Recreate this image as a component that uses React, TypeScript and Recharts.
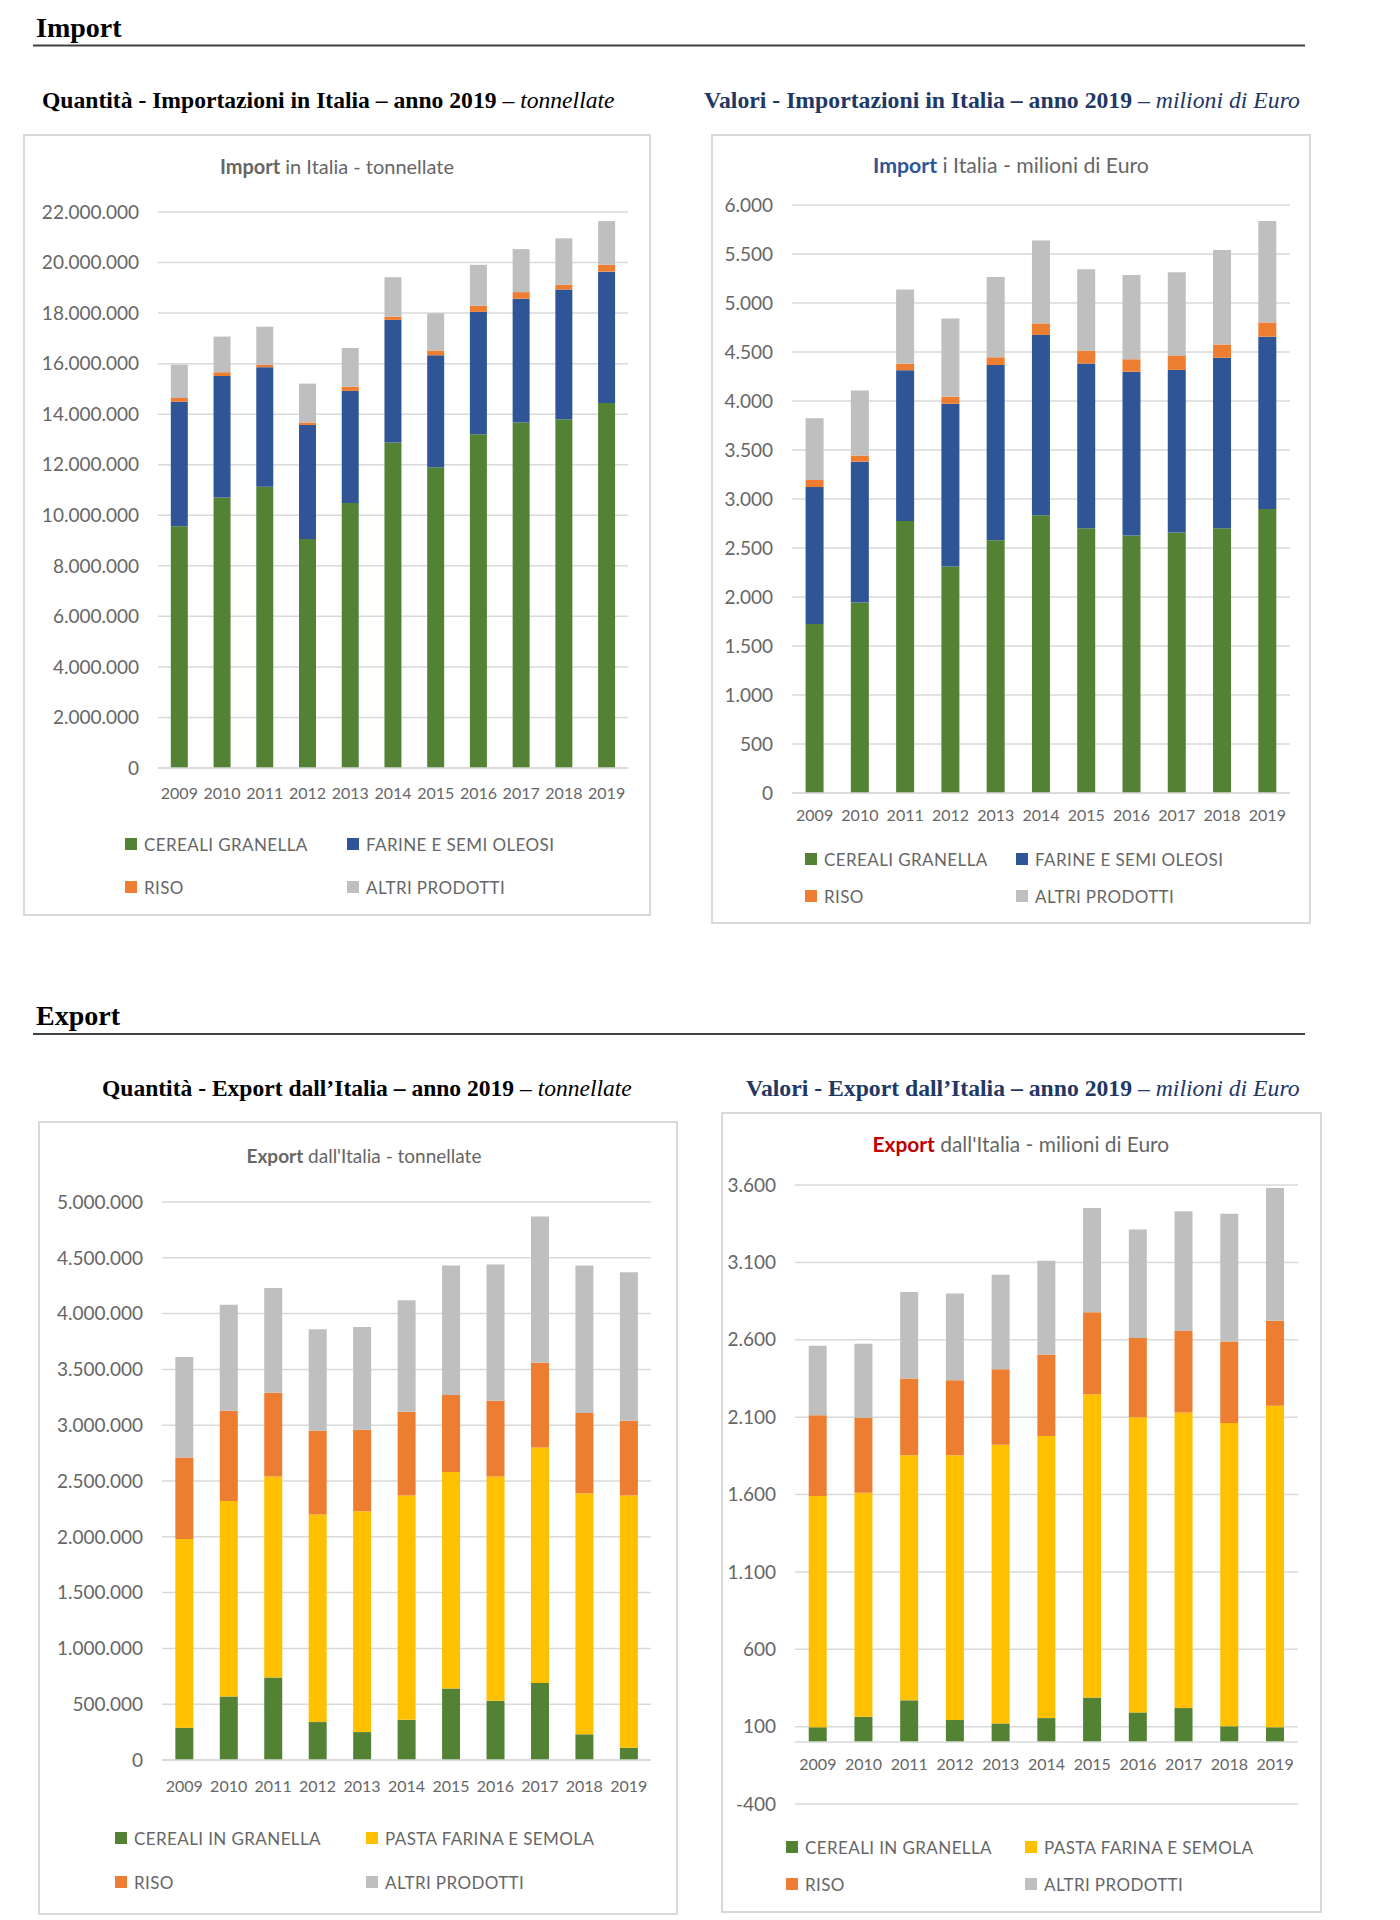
import React from 'react';
import { BarChart, Bar, XAxis, YAxis, CartesianGrid, ReferenceLine } from 'recharts';

const YEARS = ['2009', '2010', '2011', '2012', '2013', '2014', '2015', '2016', '2017', '2018', '2019'];

// Import - tonnellate
const IMP_TON_CEREALI = [9570000, 10700000, 11130000, 9060000, 10490000, 12880000, 11900000, 13210000, 13670000, 13800000, 14440000];
const IMP_TON_FARINE = [4920000, 4810000, 4730000, 4510000, 4430000, 4850000, 4430000, 4840000, 4900000, 5130000, 5200000];
const IMP_TON_RISO = [150000, 150000, 100000, 100000, 170000, 130000, 190000, 240000, 260000, 190000, 270000];
const IMP_TON_ALTRI = [1320000, 1410000, 1500000, 1540000, 1530000, 1560000, 1470000, 1620000, 1700000, 1840000, 1730000];
const IMP_TON_TICKS = [0, 2000000, 4000000, 6000000, 8000000, 10000000, 12000000, 14000000, 16000000, 18000000, 20000000, 22000000];

// Import - milioni di Euro
const IMP_EUR_CEREALI = [1725, 1944, 2775, 2311, 2579, 2833, 2702, 2628, 2657, 2702, 2897];
const IMP_EUR_FARINE = [1397, 1437, 1539, 1661, 1788, 1842, 1680, 1671, 1661, 1739, 1759];
const IMP_EUR_RISO = [73, 63, 68, 73, 79, 117, 132, 127, 147, 136, 146];
const IMP_EUR_ALTRI = [630, 664, 757, 796, 820, 845, 830, 860, 850, 963, 1036];
const IMP_EUR_TICKS = [0, 500, 1000, 1500, 2000, 2500, 3000, 3500, 4000, 4500, 5000, 5500, 6000];

// Export - tonnellate
const EXP_TON_CEREALI = [290000, 570000, 740000, 340000, 250000, 360000, 640000, 530000, 690000, 230000, 110000];
const EXP_TON_PASTA = [1690000, 1750000, 1800000, 1860000, 1980000, 2010000, 1940000, 2010000, 2110000, 2160000, 2260000];
const EXP_TON_RISO = [730000, 810000, 750000, 750000, 730000, 750000, 690000, 680000, 760000, 720000, 670000];
const EXP_TON_ALTRI = [900000, 950000, 940000, 910000, 920000, 1000000, 1160000, 1220000, 1310000, 1320000, 1330000];
const EXP_TON_TICKS = [0, 500000, 1000000, 1500000, 2000000, 2500000, 3000000, 3500000, 4000000, 4500000, 5000000];

// Export - milioni di Euro
const EXP_EUR_CEREALI = [96, 164, 270, 143, 121, 155, 288, 192, 220, 102, 96];
const EXP_EUR_PASTA = [1495, 1448, 1584, 1711, 1801, 1823, 1960, 1907, 1910, 1960, 2078];
const EXP_EUR_RISO = [521, 484, 496, 484, 487, 527, 530, 512, 527, 527, 548];
const EXP_EUR_ALTRI = [449, 478, 559, 561, 611, 605, 673, 701, 773, 825, 859];
const EXP_EUR_TICKS = [-400, 100, 600, 1100, 1600, 2100, 2600, 3100, 3600];

const GREEN = '#548235';
const BLUE = '#2F5597';
const ORANGE = '#ED7D31';
const GREY = '#BFBFBF';
const YELLOW = '#FFC000';
const TEXT = '#666666';
const GRID = '#D9D9D9';
const NAVY = '#1F3864';
const FONT = 'Lato, "Open Sans", sans-serif';
const SERIF = '"Liberation Serif", "Times New Roman", serif';

type Series = { key: string; name: string; color: string; values: number[] };

const importTon: Series[] = [
  { key: 'cereali', name: 'CEREALI GRANELLA', color: GREEN, values: IMP_TON_CEREALI },
  { key: 'farine', name: 'FARINE E SEMI OLEOSI', color: BLUE, values: IMP_TON_FARINE },
  { key: 'riso', name: 'RISO', color: ORANGE, values: IMP_TON_RISO },
  { key: 'altri', name: 'ALTRI PRODOTTI', color: GREY, values: IMP_TON_ALTRI },
];
const importEur: Series[] = [
  { key: 'cereali', name: 'CEREALI GRANELLA', color: GREEN, values: IMP_EUR_CEREALI },
  { key: 'farine', name: 'FARINE E SEMI OLEOSI', color: BLUE, values: IMP_EUR_FARINE },
  { key: 'riso', name: 'RISO', color: ORANGE, values: IMP_EUR_RISO },
  { key: 'altri', name: 'ALTRI PRODOTTI', color: GREY, values: IMP_EUR_ALTRI },
];
const exportTon: Series[] = [
  { key: 'cereali', name: 'CEREALI IN GRANELLA', color: GREEN, values: EXP_TON_CEREALI },
  { key: 'pasta', name: 'PASTA FARINA E SEMOLA', color: YELLOW, values: EXP_TON_PASTA },
  { key: 'riso', name: 'RISO', color: ORANGE, values: EXP_TON_RISO },
  { key: 'altri', name: 'ALTRI PRODOTTI', color: GREY, values: EXP_TON_ALTRI },
];
const exportEur: Series[] = [
  { key: 'cereali', name: 'CEREALI IN GRANELLA', color: GREEN, values: EXP_EUR_CEREALI },
  { key: 'pasta', name: 'PASTA FARINA E SEMOLA', color: YELLOW, values: EXP_EUR_PASTA },
  { key: 'riso', name: 'RISO', color: ORANGE, values: EXP_EUR_RISO },
  { key: 'altri', name: 'ALTRI PRODOTTI', color: GREY, values: EXP_EUR_ALTRI },
];

const fmt = (v: number) => {
  const s = Math.abs(v).toString().replace(/\B(?=(\d{3})+(?!\d))/g, '.');
  return v < 0 ? '-' + s : s;
};

const buildRows = (series: Series[]) =>
  YEARS.map((year, i) => {
    const row: Record<string, string | number> = { year };
    series.forEach((s) => (row[s.key] = s.values[i]));
    return row;
  });

// text widths, used to lay out mixed-style titles as separate pieces
let ctx: CanvasRenderingContext2D | null = null;
const measure = (text: string, font: string) => {
  if (!ctx) ctx = document.createElement('canvas').getContext('2d');
  if (!ctx) return text.length * 10;
  ctx.font = font;
  return ctx.measureText(text).width;
};

// pieces laid out left to right; font size picked so the whole line is w wide
type Piece = { text: string; weight?: string; style?: string; fill: string };
const Fitted = ({ x, y, w, size, family, pieces }: { x: number; y: number; w: number; size: number; family: string; pieces: Piece[] }) => {
  const fontOf = (p: Piece, s: number) => `${p.style || 'normal'} ${p.weight || 'normal'} ${s}px ${family}`;
  const lineWidth = (s: number) =>
    pieces.reduce((a, p) => a + measure(p.text, fontOf(p, s)), 0) + measure(' ', `${s}px ${family}`) * (pieces.length - 1);
  const fs = (size * w) / lineWidth(size);
  const space = measure(' ', `${fs}px ${family}`);
  let cx = x;
  return (
    <>
      {pieces.map((p, i) => {
        const px = cx;
        cx += measure(p.text, fontOf(p, fs)) + space;
        return (
          <text
            key={i}
            x={px}
            y={y}
            fontFamily={family}
            fontSize={fs}
            fontWeight={p.weight || 'normal'}
            fontStyle={p.style || 'normal'}
            fill={p.fill}
          >
            {p.text}
          </text>
        );
      })}
    </>
  );
};

// x labels; lift moves them up to the zero line when the axis has negative values
const YearTick = (props: any) => {
  const { x, y, payload, lift = 0 } = props;
  return (
    <text x={x} y={y - lift} dy="0.71em" textAnchor="middle" fill={TEXT} fontSize={16} fontFamily={FONT}>
      {payload.value}
    </text>
  );
};

interface PanelProps {
  series: Series[];
  ticks: number[];
  box: { x: number; y: number; w: number; h: number };
  plot: { left: number; top: number; right: number; bottom: number };
  labelGap: number;
  legendRows: number[];
  legendCols: number[];
  title: { cx: number; cy: number; w: number; bold: string; rest: string; boldColor: string };
  zeroLine?: boolean;
}

const XAXIS_H = 30;

const Panel: React.FC<PanelProps> = ({ series, ticks, box, plot, labelGap, legendRows, legendCols, title, zeroLine }) => {
  const data = buildRows(series);
  const min = ticks[0];
  const max = ticks[ticks.length - 1];
  const plotH = plot.bottom - plot.top;
  const lift = zeroLine ? (plotH * (0 - min)) / (max - min) : 0;
  return (
    <>
      <div
        style={{
          position: 'absolute',
          left: box.x,
          top: box.y,
          width: box.w,
          height: box.h,
          border: '2px solid #D9D9D9',
          boxSizing: 'border-box',
        }}
      />
      <div style={{ position: 'absolute', left: box.x, top: box.y }}>
        <BarChart
          width={box.w}
          height={box.h}
          data={data}
          barCategoryGap="30%"
          margin={{
            top: plot.top - box.y,
            right: box.x + box.w - plot.right,
            left: 0,
            bottom: box.y + box.h - plot.bottom - XAXIS_H,
          }}
        >
          <CartesianGrid vertical={false} stroke={GRID} strokeWidth={1.5} />
          <XAxis
            dataKey="year"
            height={XAXIS_H}
            tickLine={false}
            tickSize={0}
            tickMargin={labelGap}
            axisLine={zeroLine ? false : { stroke: GRID, strokeWidth: 1.5 }}
            interval={0}
            tick={<YearTick lift={lift} />}
          />
          <YAxis
            width={plot.left - box.x}
            domain={[min, max]}
            ticks={ticks}
            interval={0}
            allowDataOverflow
            axisLine={false}
            tickLine={false}
            tickSize={0}
            tickMargin={19}
            tickFormatter={fmt}
            tick={{ fill: TEXT, fontSize: 19, fontFamily: FONT }}
          />
          {zeroLine && <ReferenceLine y={0} stroke={GRID} strokeWidth={1.5} />}
          {series.map((s) => (
            <Bar key={s.key} dataKey={s.key} name={s.name} stackId="a" fill={s.color} isAnimationActive={false} />
          ))}
        </BarChart>
      </div>
      <svg width={1400} height={40} style={{ position: 'absolute', left: 0, top: title.cy - 20, overflow: 'visible' }}>
        <Fitted
          x={title.cx - title.w / 2}
          y={27}
          w={title.w}
          size={20}
          family={FONT}
          pieces={[
            { text: title.bold, weight: 'bold', fill: title.boldColor },
            { text: title.rest, fill: TEXT },
          ]}
        />
      </svg>
      {series.map((s, i) => (
        <div
          key={s.key}
          style={{
            position: 'absolute',
            left: legendCols[i % 2],
            top: legendRows[Math.floor(i / 2)] - 11,
            height: 22,
            display: 'flex',
            alignItems: 'center',
            fontFamily: FONT,
            fontSize: 17,
            letterSpacing: 0.4,
            color: TEXT,
            whiteSpace: 'nowrap',
          }}
        >
          <span style={{ display: 'inline-block', width: 12, height: 12, background: s.color, marginRight: 7 }} />
          {s.name}
        </div>
      ))}
    </>
  );
};

const Heading = ({ x, y, text }: { x: number; y: number; text: string }) => (
  <text x={x} y={y} fontFamily={SERIF} fontWeight="bold" fontSize={28} fill="#000">
    {text}
  </text>
);

const Subtitle = ({ x, y, w, main, unit, color }: { x: number; y: number; w: number; main: string; unit: string; color: string }) => (
  <Fitted
    x={x}
    y={y}
    w={w}
    size={22}
    family={SERIF}
    pieces={[
      { text: main, weight: 'bold', fill: color },
      { text: '–', fill: color },
      { text: unit, style: 'italic', fill: color },
    ]}
  />
);

const App: React.FC = () => (
  <div style={{ position: 'absolute', left: 0, top: 0, width: 1400, height: 1920, background: '#fff' }}>
    <svg width={1400} height={1920} style={{ position: 'absolute', left: 0, top: 0 }}>
      <Heading x={36} y={37} text="Import" />
      <line x1={33} x2={1305} y1={45.5} y2={45.5} stroke="#404040" strokeWidth={2} />
      <Subtitle x={42} y={108} w={573} main="Quantità - Importazioni in Italia – anno 2019" unit="tonnellate" color="#000" />
      <Subtitle x={704} y={108} w={596} main="Valori - Importazioni in Italia – anno 2019" unit="milioni di Euro" color={NAVY} />
      <Heading x={36} y={1025} text="Export" />
      <line x1={33} x2={1305} y1={1034} y2={1034} stroke="#404040" strokeWidth={2} />
      <Subtitle x={102} y={1096} w={530} main="Quantità - Export dall’Italia – anno 2019" unit="tonnellate" color="#000" />
      <Subtitle x={746} y={1096} w={554} main="Valori - Export dall’Italia – anno 2019" unit="milioni di Euro" color={NAVY} />
    </svg>

    <Panel
      series={importTon}
      ticks={IMP_TON_TICKS}
      box={{ x: 23, y: 134, w: 628, h: 782 }}
      plot={{ left: 158, top: 212, right: 628, bottom: 768 }}
      labelGap={20}
      legendRows={[844, 887]}
      legendCols={[125, 347]}
      title={{ cx: 337, cy: 167, w: 234, bold: 'Import', rest: 'in Italia - tonnellate', boldColor: TEXT }}
    />
    <Panel
      series={importEur}
      ticks={IMP_EUR_TICKS}
      box={{ x: 711, y: 134, w: 600, h: 790 }}
      plot={{ left: 792, top: 205, right: 1290, bottom: 793 }}
      labelGap={17}
      legendRows={[859, 896]}
      legendCols={[805, 1016]}
      title={{ cx: 1011, cy: 166, w: 276, bold: 'Import', rest: 'i Italia - milioni di Euro', boldColor: BLUE }}
    />
    <Panel
      series={exportTon}
      ticks={EXP_TON_TICKS}
      box={{ x: 38, y: 1121, w: 640, h: 794 }}
      plot={{ left: 162, top: 1202, right: 651, bottom: 1760 }}
      labelGap={21}
      legendRows={[1838, 1882]}
      legendCols={[115, 366]}
      title={{ cx: 364, cy: 1156, w: 235, bold: 'Export', rest: "dall'Italia - tonnellate", boldColor: TEXT }}
    />
    <Panel
      series={exportEur}
      ticks={EXP_EUR_TICKS}
      box={{ x: 721, y: 1112, w: 601, h: 801 }}
      plot={{ left: 795, top: 1185, right: 1298, bottom: 1804 }}
      labelGap={17}
      legendRows={[1847, 1884]}
      legendCols={[786, 1025]}
      title={{ cx: 1021, cy: 1145, w: 297, bold: 'Export', rest: "dall'Italia - milioni di Euro", boldColor: '#C00000' }}
      zeroLine
    />
  </div>
);

export default App;
